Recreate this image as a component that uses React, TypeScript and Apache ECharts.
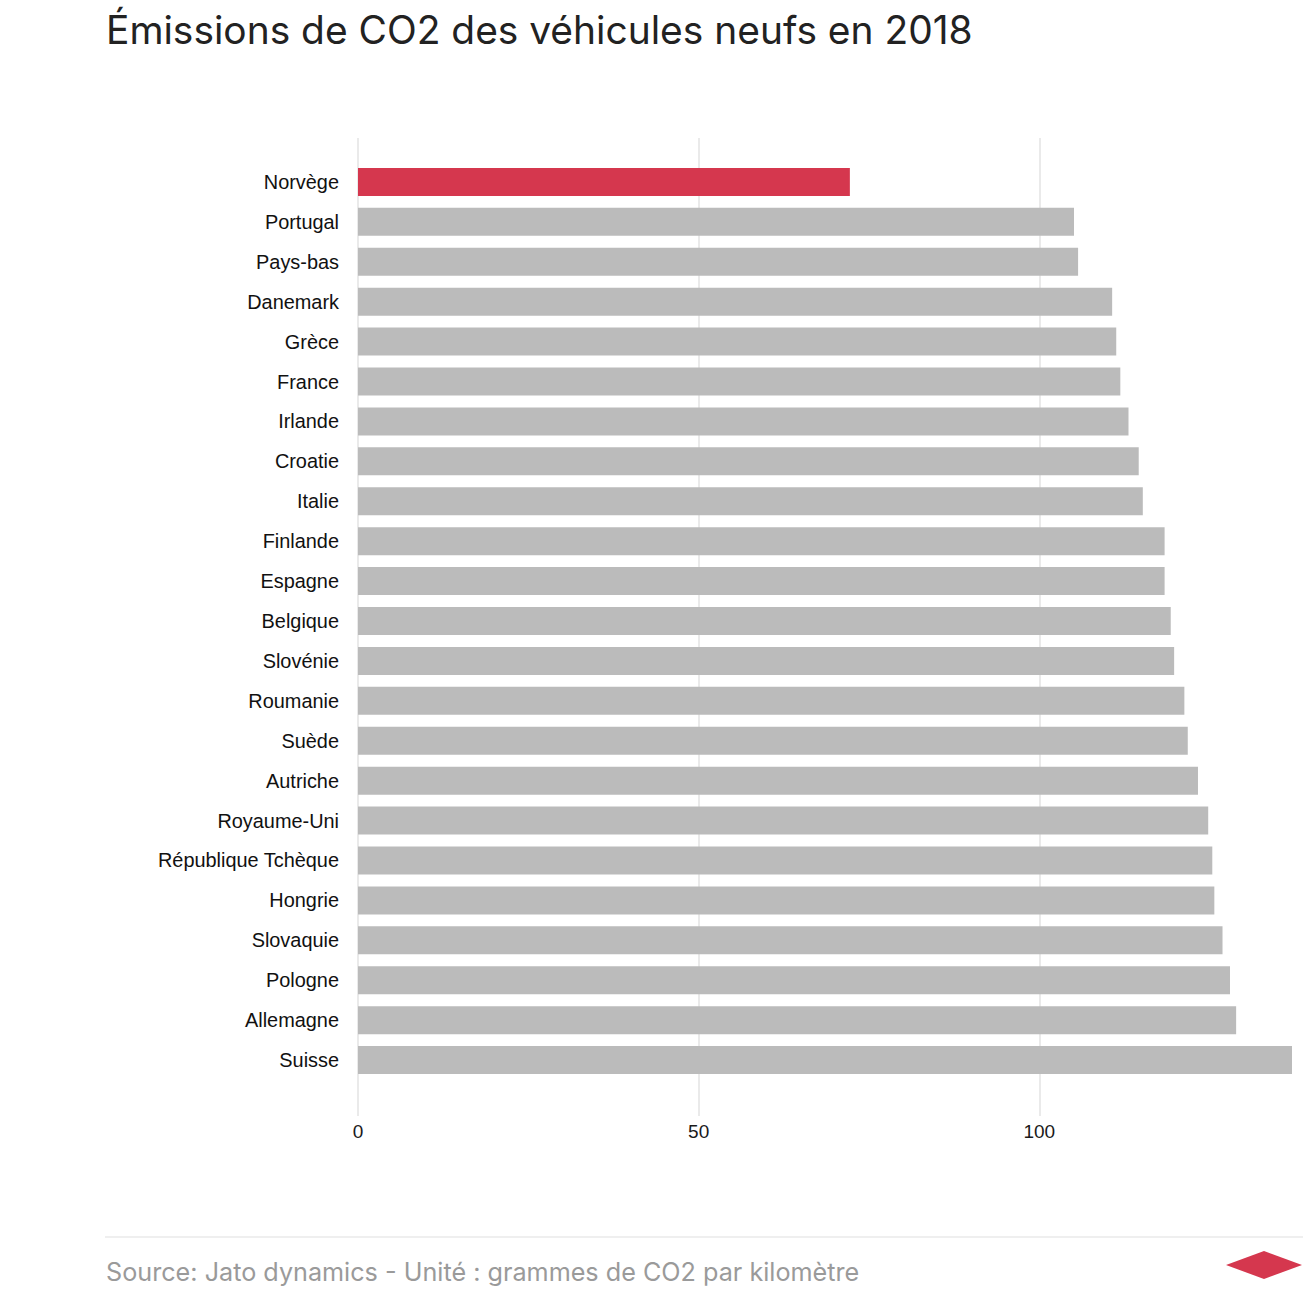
import React, { useEffect, useRef } from "react";
import * as echarts from "echarts";

const countries = [
  "Norvège", "Portugal", "Pays-bas", "Danemark", "Grèce", "France", "Irlande",
  "Croatie", "Italie", "Finlande", "Espagne", "Belgique", "Slovénie", "Roumanie",
  "Suède", "Autriche", "Royaume-Uni", "République Tchèque", "Hongrie",
  "Slovaquie", "Pologne", "Allemagne", "Suisse",
];
const emissions = [
  72.2, 105.1, 105.7, 110.7, 111.3, 111.9, 113.1, 114.6, 115.2, 118.4, 118.4,
  119.3, 119.8, 121.3, 121.8, 123.3, 124.8, 125.4, 125.7, 126.9, 128.0, 128.9, 137.1,
];
const highlighted = ["Norvège"];
const xTicks = [0, 50, 100];

const titleText = "Émissions de CO2 des véhicules neufs en 2018";
const sourceText = "Source: Jato dynamics - Unité : grammes de CO2 par kilomètre";

const RED = "#d5374e";
const GREY = "#bbbbbb";

export default function App() {
  const ref = useRef<HTMLDivElement>(null);
  useEffect(() => {
    if (!ref.current) return;
    const chart = echarts.init(ref.current, undefined, { renderer: "svg" });
    const xMax = Math.max(...emissions);
    const labelFont = "'Liberation Sans', Arial, Helvetica, sans-serif";
    const headFont = "Inter, 'Noto Sans', sans-serif";
    chart.setOption({
      animation: false,
      backgroundColor: "#ffffff",
      title: {
        text: titleText,
        left: 101,
        top: 5,
        textStyle: {
          fontFamily: headFont,
          fontSize: 38.9,
          fontWeight: 400,
          color: "#222222",
        },
      },
      grid: [
        { left: 358, right: 24, top: 162, height: 918 },
        { left: 358, right: 24, top: 138, height: 978 },
      ],
      xAxis: [
        {
          gridIndex: 0,
          type: "value",
          min: 0,
          max: xMax,
          show: false,
        },
        {
          gridIndex: 1,
          type: "value",
          min: 0,
          max: xMax,
          interval: 50,
          axisLine: { show: false },
          axisTick: { show: false },
          splitLine: {
            show: true,
            showMaxLine: false,
            lineStyle: { color: "#e3e3e3", width: 1.5 },
          },
          axisLabel: {
            margin: 6,
            fontFamily: labelFont,
            fontSize: 19,
            color: "#1a1a1a",
            showMaxLabel: false,
            formatter: (v: number) => (xTicks.includes(v) ? String(v) : ""),
          },
        },
      ],
      yAxis: [
        {
          gridIndex: 0,
          type: "category",
          inverse: true,
          data: countries,
          axisLine: { show: false },
          axisTick: { show: false },
          splitLine: { show: false },
          axisLabel: {
            margin: 19,
            fontFamily: labelFont,
            fontSize: 19.9,
            color: "#111111",
          },
        },
        {
          gridIndex: 1,
          type: "value",
          show: false,
        },
      ],
      series: [
        {
          type: "bar",
          xAxisIndex: 0,
          yAxisIndex: 0,
          barWidth: 28,
          data: emissions.map((v, i) => ({
            value: v,
            itemStyle: { color: highlighted.includes(countries[i]) ? RED : GREY },
          })),
        },
      ],
      graphic: [
        {
          type: "line",
          shape: { x1: 105, y1: 1237, x2: 1303, y2: 1237 },
          style: { stroke: "#efefef", lineWidth: 2 },
        },
        {
          type: "text",
          left: 106,
          top: 1259,
          style: {
            text: sourceText,
            fontFamily: headFont,
            fontSize: 25.2,
            fill: "#9a9a9a",
          },
        },
        {
          type: "polygon",
          shape: {
            points: [
              [1226, 1265],
              [1264, 1251],
              [1302, 1265],
              [1264, 1279],
            ],
          },
          style: { fill: RED },
        },
      ],
    });
    return () => chart.dispose();
  }, []);
  return (
    <div
      ref={ref}
      style={{ position: "absolute", left: 0, top: 0, width: 1316, height: 1294 }}
    />
  );
}
